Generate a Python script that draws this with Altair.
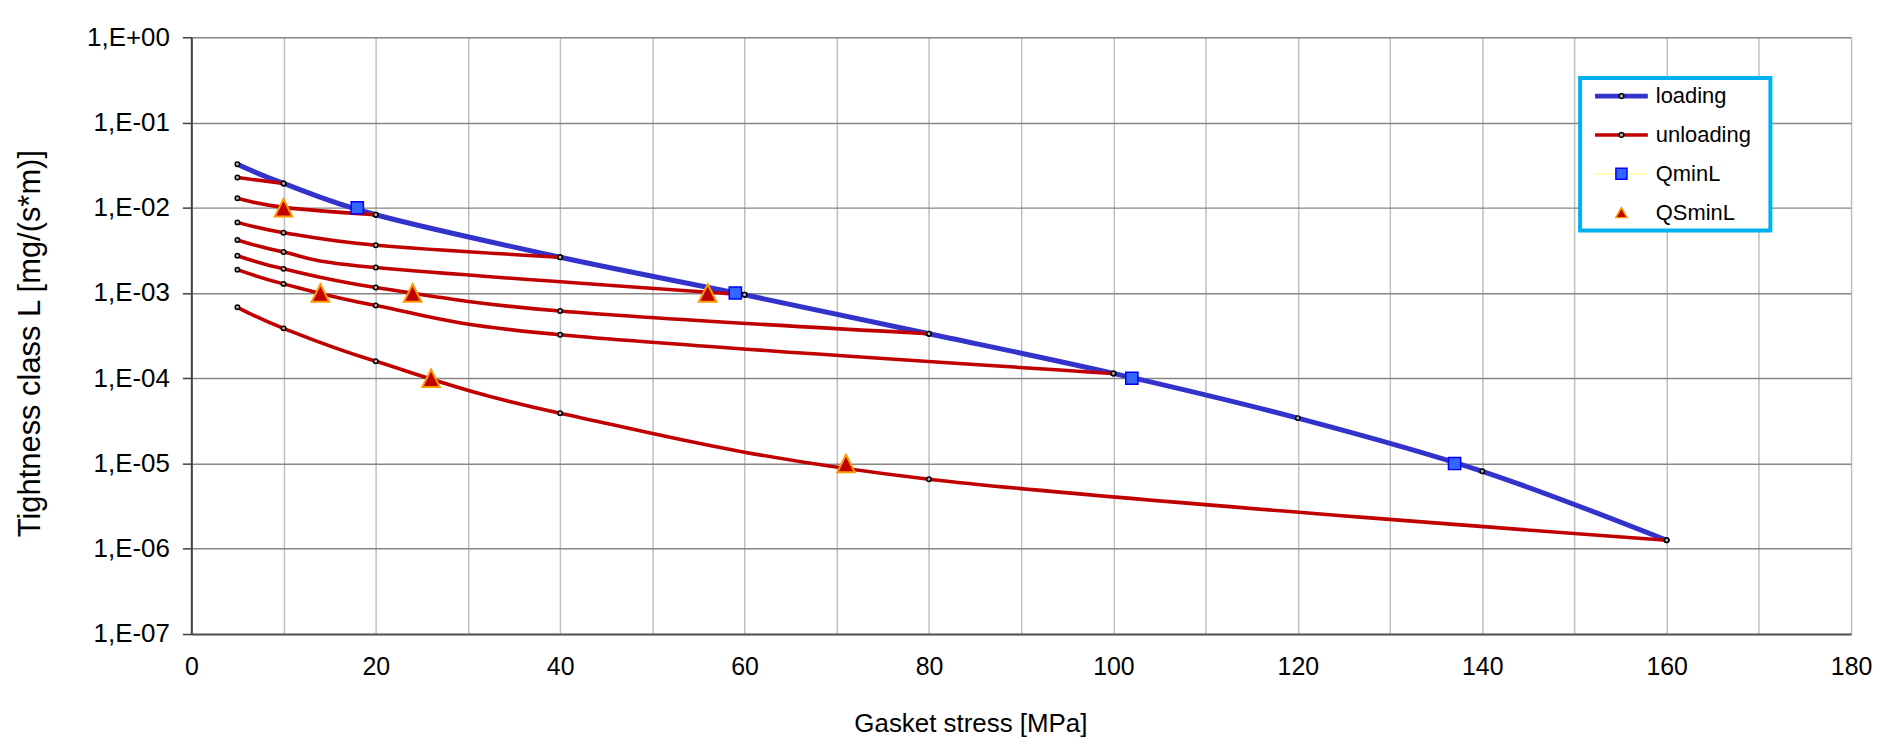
import math
import altair as alt
import pandas as pd

# ---------------- data ----------------
load_x = [5, 10, 20, 40, 60, 80, 100, 120, 140, 160]
load_y = [3.24e-2, 1.93e-2, 8.28e-3, 2.63e-3, 9.53e-4, 3.33e-4, 1.14e-4, 3.41e-5, 8.11e-6, 1.26e-6]

unl1_x = [5, 10]
unl1_y = [2.26e-2, 1.93e-2]
unl2_x = [5, 10, 20]
unl2_y = [1.29e-2, 1.01e-2, 8.28e-3]
unl3_x = [5, 10, 20, 40]
unl3_y = [6.74e-3, 5.10e-3, 3.63e-3, 2.63e-3]
unl4_x = [5, 10, 20, 60]
unl4_y = [4.19e-3, 3.03e-3, 1.99e-3, 9.53e-4]
unl5_x = [5, 10, 20, 40, 80]
unl5_y = [2.74e-3, 1.92e-3, 1.16e-3, 6.14e-4, 3.33e-4]
unl6_x = [5, 10, 20, 40, 100]
unl6_y = [1.88e-3, 1.28e-3, 7.14e-4, 3.24e-4, 1.14e-4]
unl7_x = [5, 10, 20, 40, 80, 160]
unl7_y = [6.80e-4, 3.85e-4, 1.58e-4, 3.90e-5, 6.55e-6, 1.26e-6]

qmin_x = [18, 59, 102, 137]
qmin_y = [1e-2, 1e-3, 1e-4, 1e-5]
qsmin_x = [10, 14, 24, 56, 26, 71]
qsmin_y = [1e-2, 1e-3, 1e-3, 1e-3, 1e-4, 1e-5]

legend_names = ["loading", "unloading", "QminL", "QSminL"]
x_ticks = list(range(0, 181, 10))
y_ticks = [1e-7, 1e-6, 1e-5, 1e-4, 1e-3, 1e-2, 1e-1, 1.0]

# ---------------- tables ----------------
load_df = pd.DataFrame({"x": load_x, "y": load_y})
unl_sets = [(unl1_x, unl1_y), (unl2_x, unl2_y), (unl3_x, unl3_y), (unl4_x, unl4_y),
            (unl5_x, unl5_y), (unl6_x, unl6_y), (unl7_x, unl7_y)]
rows = []
for i, (xs, ys) in enumerate(unl_sets):
    for xv, yv in zip(xs, ys):
        rows.append({"curve": f"u{i+1}", "x": xv, "y": yv})
unl_df = pd.DataFrame(rows)
pts_df = pd.concat([load_df, unl_df[["x", "y"]]], ignore_index=True)
qmin_df = pd.DataFrame({"x": qmin_x, "y": qmin_y})
qsmin_df = pd.DataFrame({"x": qsmin_x, "y": qsmin_y})
leg_df = pd.DataFrame({"leg": legend_names})

# ---------------- styles ----------------
FONT = "Liberation Sans"
BLUE = "#3333CC"
RED = "#C00000"


def rect_path(h):
    return f"M-1,{-h}H1V{h}H-1Z"


def circle_path(r, n=20):
    pts = [(r * math.cos(2 * math.pi * i / n), r * math.sin(2 * math.pi * i / n)) for i in range(n)]
    return "M" + "L".join(f"{a:.4f},{b:.4f}" for a, b in pts) + "Z"


line_paths = [rect_path(0.09), rect_path(0.066), rect_path(0.028), rect_path(0.02)]
line_fills = [BLUE, RED, "#FFFF99", "transparent"]
mark_paths = [circle_path(0.09), circle_path(0.09),
              "M-0.21,-0.21H0.21V0.21H-0.21Z",
              "M0,-0.19L0.21,0.19L-0.21,0.19Z"]
mark_fills = ["#B0B0B0", "#B0B0B0", "#3366FF", "#C00000"]
mark_strokes = ["black", "black", "#0000FF", "#FF9900"]

label_expr_y = ("'1,E' + (datum.value >= 1 ? '+' : '-') + "
                "(abs(round(log(datum.value)/LN10)) < 10 ? '0' : '') + "
                "abs(round(log(datum.value)/LN10))")

x_axis = alt.Axis(values=x_ticks, labelExpr="datum.value % 20 == 0 ? datum.label : ''",
                  grid=True, gridColor="#BFBFBF", gridWidth=1.5,
                  domain=True, domainColor="#595959", domainWidth=2,
                  ticks=False, tickSize=0, labelPadding=21, labelFlush=False, labelOverlap=False,
                  labelFontSize=25, labelFont=FONT, labelColor="black",
                  title="Gasket stress [MPa]", titleFontSize=26, titleFont=FONT,
                  titleFontWeight="normal", titleColor="black",
                  titleX=782, titleY=98, titleBaseline="alphabetic", titleAlign="center")
y_axis = alt.Axis(values=y_ticks, labelExpr=label_expr_y,
                  grid=True, gridColor="#868686", gridWidth=1.5,
                  domain=True, domainColor="#404040", domainWidth=2,
                  ticks=True, tickColor="#404040", tickSize=9, tickWidth=1.5,
                  labelPadding=13, labelFlush=False, labelOverlap=False,
                  labelFontSize=26, labelFont=FONT, labelColor="black",
                  title="Tightness class L [mg/(s*m)]", titleFontSize=31, titleFont=FONT,
                  titleFontWeight="normal", titleColor="black", titleAngle=270,
                  titleX=-152, titleY=307, titleBaseline="alphabetic", titleAlign="center")

X = alt.X("x:Q", scale=alt.Scale(domain=[0, 180], nice=False, zero=False), axis=x_axis)
Y = alt.Y("y:Q", scale=alt.Scale(type="log", domain=[1e-7, 1], nice=False), axis=y_axis)

load_line = alt.Chart(load_df).mark_line(color=BLUE, strokeWidth=5, interpolate="cardinal").encode(x=X, y=Y)
unl_lines = alt.Chart(unl_df).mark_line(color=RED, strokeWidth=3.6, interpolate="cardinal").encode(
    x=X, y=Y, detail="curve:N")
circles = alt.Chart(pts_df).mark_point(shape="circle", filled=True, fill="#B0B0B0", stroke="black",
                                       strokeWidth=1.5, size=20, opacity=1).encode(x=X, y=Y)
squares = alt.Chart(qmin_df).mark_point(shape="square", filled=True, fill="#3366FF", stroke="#0000FF",
                                        strokeWidth=1.5, size=150, opacity=1).encode(x=X, y=Y)
triangles = alt.Chart(qsmin_df).mark_point(shape="M0,-1L1,1L-1,1Z", filled=True, fill="#C00000",
                                           stroke="#FF9900", strokeWidth=2, size=310,
                                           opacity=1).encode(x=X, y=Y)

leg_common = dict(orient="none", legendX=1394, legendY=41, symbolSize=2809,
                  symbolStrokeWidth=1.5, symbolOffset=10, labelOffset=7, clipHeight=28,
                  rowPadding=11, padding=4, labelFontSize=22, labelFont=FONT, labelColor="black",
                  labelLimit=400)
leg1 = alt.Legend(title="x", titleOrient="right", titlePadding=7, titleFontSize=16,
                  titleColor="transparent", strokeColor="#00B0F0", fillColor="white",
                  zindex=1, **leg_common)
leg2 = alt.Legend(title=None, zindex=2, labelOpacity=0, **leg_common)

leg_lines = alt.Chart(leg_df).transform_filter("false").mark_point(
    filled=True, stroke="transparent", strokeWidth=1.5, opacity=1, size=2809).encode(
    fill=alt.Fill("leg:N", scale=alt.Scale(domain=legend_names, range=line_fills), legend=leg1),
    shape=alt.Shape("leg:N", scale=alt.Scale(domain=legend_names, range=line_paths), legend=leg1),
)
leg_marks = alt.Chart(leg_df).transform_filter("false").mark_point(
    filled=True, strokeWidth=1.5, opacity=1, size=2809).encode(
    fill=alt.Fill("leg:N", scale=alt.Scale(domain=legend_names, range=mark_fills), legend=leg2),
    stroke=alt.Stroke("leg:N", scale=alt.Scale(domain=legend_names, range=mark_strokes), legend=leg2),
    shape=alt.Shape("leg:N", scale=alt.Scale(domain=legend_names, range=mark_paths), legend=leg2),
)

chart = alt.layer(load_line, unl_lines, circles, squares, triangles, leg_lines, leg_marks).resolve_scale(
    fill="independent", shape="independent", stroke="independent"
).resolve_legend(
    fill="independent", shape="independent", stroke="independent"
).properties(
    width=1666, height=599,
    autosize=alt.AutoSizeParams(type="none"),
    padding={"left": 184, "top": 28, "right": 22, "bottom": 106},
).configure(font=FONT, background="white").configure_view(stroke=None).configure_legend(strokeWidth=4)

chart.save("out.html", embed_options={"renderer": "svg", "actions": False})
